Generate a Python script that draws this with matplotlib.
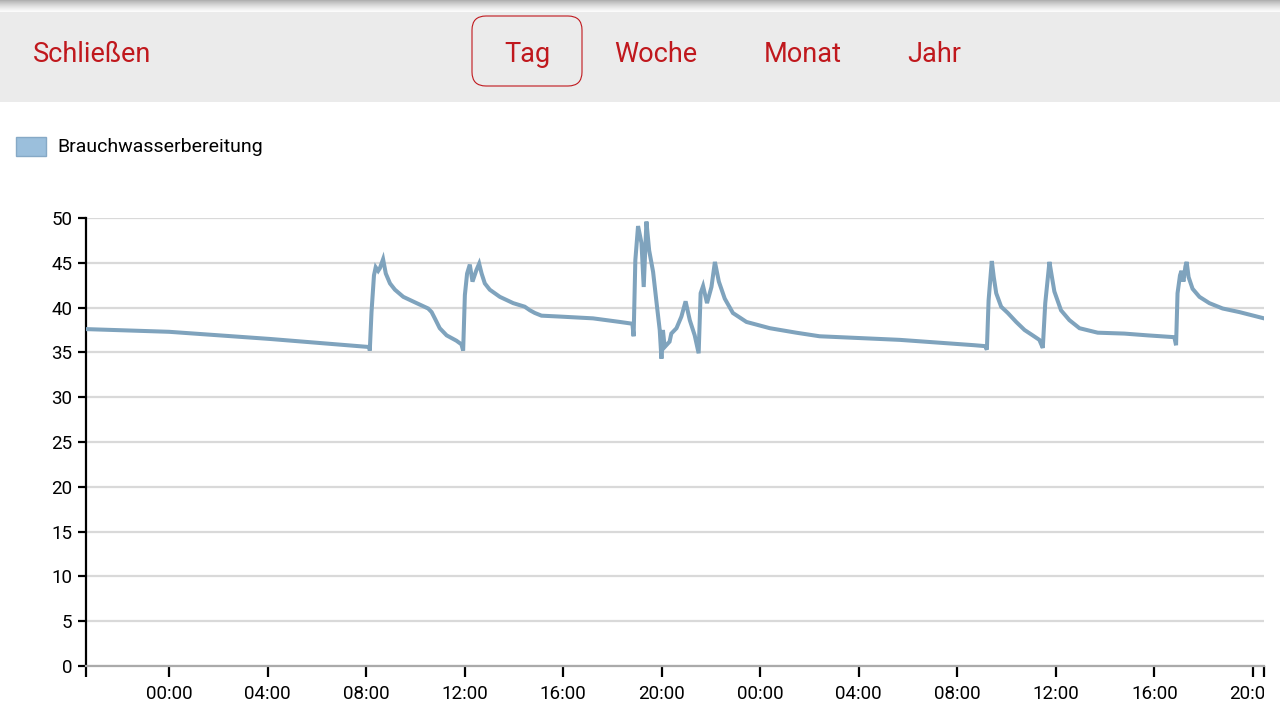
import numpy as np
import matplotlib.pyplot as plt
from matplotlib.patches import Rectangle, FancyBboxPatch
from matplotlib.transforms import Bbox, TransformedBbox

plt.rcParams['font.family'] = ['Roboto', 'DejaVu Sans']

# hours relative to midnight of the first day, water temperature in degC
hours = [-3.37, 0.0, 4.1, 8.13, 8.15, 8.22, 8.32, 8.39, 8.49, 8.56, 8.69, 8.80, 8.97,
         9.17, 9.51, 10.05, 10.52, 10.66, 10.79, 10.99, 11.27, 11.67, 11.87, 11.94,
         12.01, 12.10, 12.21, 12.32, 12.48, 12.59, 12.69, 12.82, 13.02, 13.43, 13.97,
         14.44, 14.65, 14.85, 15.12, 15.86, 17.21, 18.30, 18.81, 18.86, 18.93, 19.04,
         19.18, 19.27, 19.38, 19.49, 19.65, 19.81, 19.92, 19.99, 20.05, 20.12, 20.32,
         20.39, 20.60, 20.80, 20.97, 21.14, 21.34, 21.50, 21.58, 21.68, 21.84, 22.02,
         22.16, 22.32, 22.56, 22.89, 23.44, 24.39, 25.46, 26.41, 29.66, 32.70, 33.13,
         33.20, 33.27, 33.40, 33.48, 33.58, 33.78, 34.05, 34.39, 34.73, 35.06, 35.33,
         35.47, 35.57, 35.74, 35.83, 35.94, 36.21, 36.55, 36.96, 37.70, 38.78, 39.73,
         40.81, 40.88, 40.94, 41.04, 41.10, 41.18, 41.26, 41.31, 41.39, 41.55, 41.83,
         42.23, 42.77, 43.45, 44.45]
temps = [37.6, 37.3, 36.5, 35.6, 35.2, 39.5, 43.6, 44.5, 44.1, 44.4, 45.4, 43.8, 42.7,
         42.0, 41.2, 40.5, 39.9, 39.5, 38.8, 37.7, 36.9, 36.3, 35.9, 35.2,
         41.4, 43.8, 44.8, 42.9, 44.2, 44.9, 43.8, 42.7, 42.0, 41.2, 40.5,
         40.1, 39.7, 39.4, 39.1, 39.0, 38.8, 38.4, 38.2, 36.8, 45.3, 49.1,
         47.2, 42.3, 49.6, 46.4, 44.0, 40.1, 37.5, 34.3, 37.5, 35.6, 36.2,
         37.1, 37.7, 39.0, 40.7, 38.6, 36.9, 34.9, 41.6, 42.4, 40.5, 42.3,
         45.1, 42.9, 41.0, 39.4, 38.4, 37.7, 37.2, 36.8, 36.4, 35.8, 35.7,
         35.3, 40.8, 45.2, 43.4, 41.6, 40.1, 39.4, 38.4, 37.5, 36.9, 36.4,
         35.5, 40.5, 45.1, 43.6, 41.8, 39.7, 38.6, 37.7, 37.2, 37.1, 36.9,
         36.7, 35.8, 41.6, 43.6, 44.1, 42.9, 44.6, 45.1, 43.4, 42.1, 41.2,
         40.5, 39.9, 39.5, 38.8]
x_start, x_end = -3.37, 44.45
tick_hours = list(range(0, 45, 4))
tick_labels = ['%02d:00' % (h % 24) for h in tick_hours]
series_name = 'Brauchwasserbereitung'
tabs = ['Tag', 'Woche', 'Monat', 'Jahr']

red = '#c0181d'
fig = plt.figure(figsize=(12.8, 7.2), dpi=100)

# top bar in pixel coordinates
bar = fig.add_axes([0, 1 - 102 / 720, 1, 102 / 720])
bar.set_xlim(0, 1280)
bar.set_ylim(102, 0)
bar.axis('off')
bar.add_patch(Rectangle((0, 0), 1280, 102, color='#ebebeb', zorder=0))
grad = np.linspace(0, 1, 50).reshape(-1, 1)
bar.imshow(grad, extent=(0, 1280, 12, 0), cmap='Greys_r', vmin=-1.4, vmax=1.05,
           aspect='auto', zorder=1)
bar.text(33, 55, 'Schließen', color=red, fontsize=19.5, va='center', ha='left')
bar.add_patch(FancyBboxPatch((482, 26), 90, 50, boxstyle='round,pad=10,rounding_size=14',
                             fill=False, ec=red, lw=0.8))
for name, cx in zip(tabs, [527, 656, 803, 934]):
    bar.text(cx, 55, name, color=red, fontsize=19.5, va='center', ha='center')

# legend
fig.patches.append(Rectangle((16 / 1280, 1 - 156 / 720), 30 / 1280, 19 / 720,
                             transform=fig.transFigure, fc='#9bbfdc', ec='#86a9c6', lw=1))
fig.text(57 / 1280, 1 - 147 / 720, series_name, fontsize=14, va='center', ha='left')

ax = fig.add_axes([86 / 1280, 1 - 666 / 720, 1178 / 1280, 448 / 720])
ax.plot(hours, temps, color='#7fa3bd', lw=2.9, solid_joinstyle='miter', zorder=3)
ax.set_xlim(x_start, x_end)
ax.set_ylim(0, 50)
ax.set_yticks(range(0, 51, 5))
ax.set_xticks(tick_hours)
ax.set_xticklabels(tick_labels)
ax.set_xticks([x_start, x_end], minor=True)
ax.grid(axis='y', color='#d9d9d9', lw=1.6, zorder=0)
ax.set_axisbelow(True)
for s in ['top', 'right']:
    ax.spines[s].set_visible(False)
ax.spines['left'].set_color('black')
ax.spines['left'].set_linewidth(1.6)
ax.spines['bottom'].set_color('#aaaaaa')
ax.spines['bottom'].set_linewidth(1.6)
ax.tick_params(axis='y', length=6, width=1.6, labelsize=13.5, pad=4)
ax.tick_params(axis='x', which='both', length=8, width=1.6, labelsize=13.5, pad=6)

# the chart area ends at the right edge of the axis, cutting the last label
clip = TransformedBbox(Bbox([[0, 0], [1264 / 1280, 1]]), fig.transFigure)
for lab in ax.get_xticklabels():
    lab.set_clip_box(clip)
    lab.set_clip_on(True)

fig.savefig('out.png', dpi=100)
